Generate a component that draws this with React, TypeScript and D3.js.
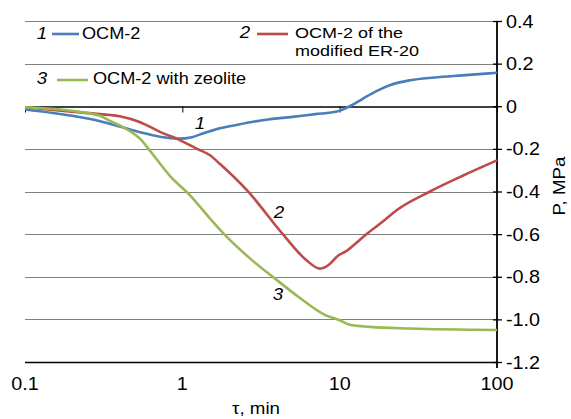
import React, { useEffect, useRef } from 'react';
import * as d3 from 'd3';

// curve 1 - OCM-2
const tau1 = [0.1, 0.2, 0.3, 0.4, 0.54, 0.72, 0.95, 1.15, 1.35, 1.7, 2.2, 2.7, 3.5, 5, 7, 9.6, 11.6, 14, 17, 21, 28, 40, 60, 100];
const ocm2 = [-0.015, -0.045, -0.07, -0.095, -0.122, -0.143, -0.152, -0.145, -0.128, -0.105, -0.088, -0.075, -0.062, -0.05, -0.037, -0.025, 0, 0.035, 0.07, 0.1, 0.122, 0.135, 0.145, 0.157];
// curve 2 - OCM-2 of the modified ER-20
const tau2 = [0.1, 0.19, 0.3, 0.4, 0.54, 0.72, 0.97, 1.24, 1.5, 1.73, 2.58, 4.35, 6.1, 7.5, 8.5, 9.8, 11, 12.8, 14.9, 18.9, 23, 37.5, 61, 100];
const ocm2Er20 = [-0.005, -0.025, -0.037, -0.047, -0.075, -0.12, -0.16, -0.2, -0.23, -0.27, -0.395, -0.6, -0.72, -0.762, -0.745, -0.7, -0.68, -0.64, -0.598, -0.54, -0.488, -0.4, -0.325, -0.254];
// curve 3 - OCM-2 with zeolite
const tau3 = [0.1, 0.19, 0.3, 0.35, 0.4, 0.46, 0.54, 0.62, 0.83, 1.12, 1.5, 1.87, 2.7, 3.9, 5.6, 8.1, 10, 11.6, 15.6, 28, 100];
const ocm2Zeolite = [-0.005, -0.02, -0.045, -0.07, -0.09, -0.115, -0.153, -0.207, -0.325, -0.418, -0.527, -0.605, -0.715, -0.81, -0.9, -0.98, -1.004, -1.025, -1.035, -1.043, -1.05];

const xTicks = [0.1, 1, 10, 100];
const yTicks = [0.4, 0.2, 0, -0.2, -0.4, -0.6, -0.8, -1.0, -1.2];
const colors = ['#4a7ebb', '#be4b48', '#98b954'];

const FONT = '"Liberation Sans", Arial, Helvetica, sans-serif';

export default function App() {
  const ref = useRef<SVGSVGElement>(null);

  useEffect(() => {
    const svg = d3.select(ref.current);
    svg.selectAll('*').remove();

    const x = d3.scaleLog().domain([0.1, 100]).range([25, 497]);
    const y = d3.scaleLinear().domain([-1.2, 0.4]).range([362, 21]);
    const py = (v: number) => Math.round(y(v)) + 0.5;

    // gridlines
    svg.append('g').selectAll('line')
      .data(yTicks.filter(v => v !== 0 && v !== -1.2))
      .join('line')
      .attr('x1', x(0.1)).attr('x2', x(100))
      .attr('y1', d => py(d)).attr('y2', d => py(d))
      .attr('stroke', '#7f7f7f').attr('stroke-width', 1);

    // bottom line
    svg.append('line')
      .attr('x1', x(0.1)).attr('x2', x(100))
      .attr('y1', py(-1.2)).attr('y2', py(-1.2))
      .attr('stroke', '#000').attr('stroke-width', 1.3);

    // x axis crossing at zero
    const xAxis = svg.append('g')
      .attr('transform', 'translate(0,' + py(0) + ')')
      .call(d3.axisBottom(x).tickValues(xTicks).tickSizeInner(6).tickSizeOuter(0).tickFormat(() => ''));
    xAxis.select('.domain').attr('stroke', '#000').attr('stroke-width', 1.3);
    xAxis.selectAll('.tick line').attr('stroke', '#000');

    // right axis
    const yAxis = svg.append('g')
      .attr('transform', 'translate(497,0)')
      .call(d3.axisRight(y).tickValues(yTicks).tickSizeInner(5).tickSizeOuter(0).tickFormat(() => ''));
    yAxis.select('.domain').remove();
    yAxis.selectAll('.tick line').attr('x1', -4).attr('stroke', '#000').attr('stroke-width', 1.3);
    svg.append('line')
      .attr('x1', 497).attr('x2', 497)
      .attr('y1', y(0.4)).attr('y2', y(-1.2) + 6)
      .attr('stroke', '#000').attr('stroke-width', 1.8);

    // y labels
    svg.append('g').selectAll('text')
      .data(yTicks)
      .join('text')
      .attr('transform', d => 'translate(506,' + (y(d) + 6.5) + ') scale(1.1,1)')
      .attr('font-family', FONT).attr('font-size', 18).attr('fill', '#000')
      .text(d => (d === 0 ? '0' : d.toFixed(1)));

    // x labels
    svg.append('g').selectAll('text')
      .data(xTicks)
      .join('text')
      .attr('transform', d => 'translate(' + x(d) + ',390) scale(1.1,1)')
      .attr('text-anchor', 'middle')
      .attr('font-family', FONT).attr('font-size', 18).attr('fill', '#000')
      .text(d => String(d));

    // axis titles
    svg.append('text')
      .attr('transform', 'translate(256,414) scale(1.1,1)')
      .attr('text-anchor', 'middle')
      .attr('font-family', FONT).attr('font-size', 17)
      .text('\u03c4, min');
    svg.append('text')
      .attr('transform', 'translate(565,186) rotate(-90) scale(1.1,1)')
      .attr('text-anchor', 'middle')
      .attr('font-family', FONT).attr('font-size', 17)
      .text('P, MPa');

    // curves
    const line = d3.line<[number, number]>()
      .x(d => x(d[0]))
      .y(d => y(d[1]))
      .curve(d3.curveMonotoneX);
    const series: [number, number][][] = [
      tau1.map((t, i) => [t, ocm2[i]]),
      tau2.map((t, i) => [t, ocm2Er20[i]]),
      tau3.map((t, i) => [t, ocm2Zeolite[i]])
    ];
    svg.append('g').selectAll('path')
      .data(series)
      .join('path')
      .attr('d', d => line(d))
      .attr('fill', 'none')
      .attr('stroke', (d, i) => colors[i])
      .attr('stroke-width', 2.6)
      .attr('stroke-linejoin', 'round');

    // curve numbers
    const nums = [
      { n: '1', x: 200, y: 129 },
      { n: '2', x: 279, y: 218 },
      { n: '3', x: 278, y: 300 }
    ];
    svg.append('g').selectAll('text')
      .data(nums)
      .join('text')
      .attr('transform', d => 'translate(' + d.x + ',' + d.y + ') scale(1.1,1)')
      .attr('text-anchor', 'middle')
      .attr('font-family', FONT).attr('font-size', 17).attr('font-style', 'italic')
      .text(d => d.n);

    // legend
    const legend = [
      { n: '1', nx: 42, lx1: 52, lx2: 79, ly: 34, tx: 82, ty: 39, fs: 16.5, sx: 1.1, lines: ['OCM-2'] },
      { n: '2', nx: 245, lx1: 257, lx2: 288, ly: 34, tx: 295, ty: 38, fs: 15, sx: 1.2, lines: ['OCM-2 of the', 'modified ER-20'] },
      { n: '3', nx: 42, lx1: 57, lx2: 88, ly: 80, tx: 93, ty: 84, fs: 16.5, sx: 1.1, lines: ['OCM-2 with zeolite'] }
    ];
    const lg = svg.append('g').selectAll('g').data(legend).join('g');
    lg.append('text')
      .attr('transform', d => 'translate(' + d.nx + ',' + d.ty + ') scale(1.1,1)')
      .attr('text-anchor', 'middle')
      .attr('font-family', FONT).attr('font-size', 17).attr('font-style', 'italic')
      .text(d => d.n);
    lg.append('line')
      .attr('x1', d => d.lx1).attr('x2', d => d.lx2)
      .attr('y1', d => d.ly).attr('y2', d => d.ly)
      .attr('stroke', (d, i) => colors[i]).attr('stroke-width', 2.6);
    lg.each(function (d) {
      const g = d3.select(this);
      d.lines.forEach((s, k) => {
        g.append('text')
          .attr('transform', 'translate(' + d.tx + ',' + (d.ty + k * 17.5) + ') scale(' + d.sx + ',1)')
          .attr('font-family', FONT).attr('font-size', d.fs)
          .text(s);
      });
    });
  }, []);

  return (
    <svg
      ref={ref}
      width={571}
      height={419}
      style={{ position: 'absolute', left: 0, top: 0, background: '#fff' }}
    />
  );
}
